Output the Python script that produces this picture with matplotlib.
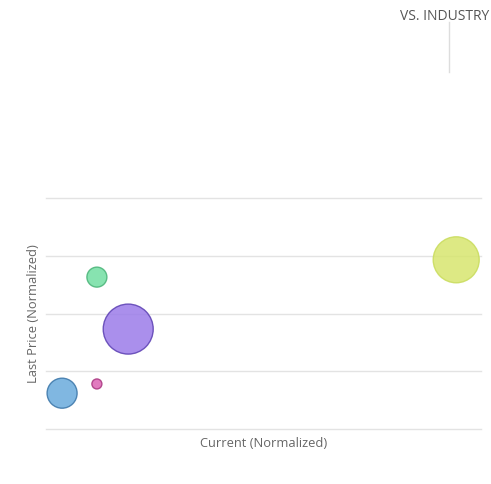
import matplotlib
matplotlib.use('Agg')
import numpy as np
import matplotlib.pyplot as plt

# bubble data (normalized current vs normalized last price)
current = [3.7, 11.7, 11.7, 18.9, 94.3]
last_price = [0.62, 0.78, 2.63, 1.73, 2.93]
bubble_size = [467, 52, 207, 1296, 1097]
face_colors = ['#6aabdc', '#dc64b4', '#72dea2', '#9b7ce9', '#d7e66e']
edge_colors = ['#3a75a8', '#a8357f', '#48b377', '#5b3fb2', '#c9dc5c']

y_ticks = [0, 1, 2, 3, 4]

plt.rcParams['font.family'] = ['Open Sans', 'DejaVu Sans']

fig = plt.figure(figsize=(4.91, 4.84), dpi=100)
fig.patch.set_facecolor('white')
ax = fig.add_axes([46/491, 55/484, 435/491, 231/484])

ax.scatter(current, last_price, s=bubble_size, c=face_colors,
           edgecolors=edge_colors, linewidths=1.0, alpha=0.85,
           zorder=3, clip_on=False)

ax.set_xlim(0, 100)
ax.set_ylim(0, 4)
ax.set_yticks(y_ticks)
ax.set_xticks([])
ax.tick_params(left=False, labelleft=False)
for y in y_ticks:
    ax.axhline(y, color='#e3e3e3', lw=1.0, zorder=1, clip_on=False)
for s in ax.spines.values():
    s.set_visible(False)

ax.set_xlabel('Current (Normalized)', color='#666666', fontsize=9.3, labelpad=6)
ax.set_ylabel('Last Price (Normalized)', color='#666666', fontsize=9.3, labelpad=4)

# header piece at the top right
fig.text(489/491, 1 - 17/484, 'VS. INDUSTRY', color='#555555', fontsize=10,
         va='center', ha='right')
fig.add_artist(plt.Line2D([449/491, 449/491], [1 - 22/484, 1 - 72/484],
                          color='#dddddd', lw=1.0))

fig.savefig('out.png', dpi=100, facecolor='white')
